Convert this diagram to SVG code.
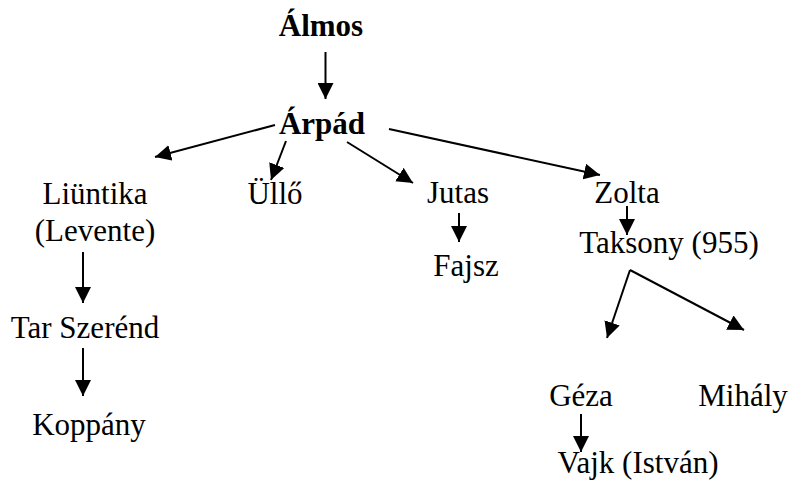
<svg xmlns="http://www.w3.org/2000/svg" width="794" height="485" viewBox="0 0 794 485">
<style>
text{font-family:"Liberation Serif","Times New Roman",serif;font-size:31px;fill:#000;text-anchor:middle}
.b{font-weight:bold}
.c line{stroke:#000;stroke-width:2;marker-end:url(#ah)}
</style>
<defs>
<marker id="ah" markerUnits="userSpaceOnUse" markerWidth="16" markerHeight="16" refX="16" refY="8" orient="auto" viewBox="0 0 16 16">
<path d="M0,0 L16,8 L0,16 z" fill="#000"/>
</marker>
</defs>
<rect width="794" height="485" fill="#fff"/>
<g id="almos"><text class="b" x="321" y="36">Álmos</text></g>
<g id="arpad"><text class="b" x="322" y="134">Árpád</text></g>
<g id="liuntika"><text x="95" y="204">Liüntika</text><text x="95" y="241">(Levente)</text></g>
<g id="ullo"><text x="275" y="204">Üllő</text></g>
<g id="jutas"><text x="458" y="203">Jutas</text></g>
<g id="zolta"><text x="627" y="203">Zolta</text></g>
<g id="taksony"><text x="669" y="253">Taksony (955)</text></g>
<g id="fajsz"><text x="466" y="276">Fajsz</text></g>
<g id="tarszerend"><text x="85" y="338">Tar Szerénd</text></g>
<g id="koppany"><text x="89" y="435">Koppány</text></g>
<g id="geza"><text x="581" y="406">Géza</text></g>
<g id="mihaly"><text x="743" y="406">Mihály</text></g>
<g id="vajk"><text x="638" y="473">Vajk (István)</text></g>
<g class="c" id="connectors">
<line x1="325.5" y1="52" x2="325.5" y2="99"/>
<line x1="275" y1="125" x2="155" y2="157"/>
<line x1="286" y1="141" x2="271" y2="180"/>
<line x1="347" y1="142" x2="413" y2="183"/>
<line x1="389" y1="129" x2="600" y2="175"/>
<line x1="83" y1="252" x2="83" y2="303"/>
<line x1="83" y1="348" x2="83" y2="396"/>
<line x1="459" y1="213" x2="459" y2="242"/>
<line x1="627" y1="206" x2="627" y2="235"/>
<line x1="630" y1="270" x2="607" y2="338"/>
<line x1="630" y1="270" x2="744" y2="330"/>
<line x1="581" y1="414" x2="581" y2="452"/>
</g>
</svg>
